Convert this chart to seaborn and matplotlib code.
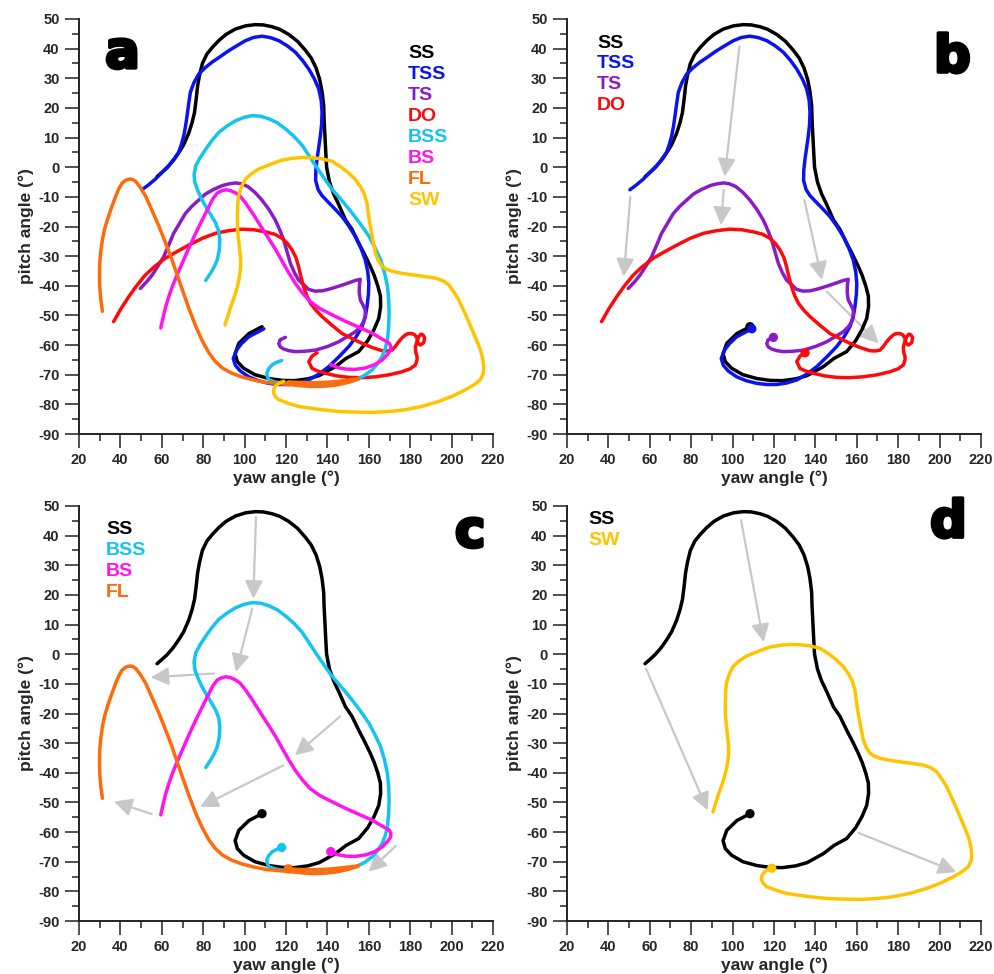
import matplotlib
matplotlib.use("Agg")
import matplotlib.pyplot as plt
import seaborn as sns
import pandas as pd
from matplotlib import patheffects as pe
from matplotlib.ticker import MultipleLocator

# ---------------- data (yaw, pitch) ----------------
ss_yaw = [108.4, 102.1, 97.2, 95.4, 96.5, 99.5, 105.0, 111.8, 118.1, 124.0, 130.5, 136.0, 143.8,
          149.0, 155.1, 159.5, 162.5, 164.8, 165.7, 165.6, 164.4, 162.6, 160.7, 158.0, 155.1,
          151.9, 148.7, 145.4, 143.0, 141.0, 139.6, 139.2, 138.8, 138.4, 138.2, 137.4, 136.3,
          134.5, 132.2, 129.3, 125.5, 121.3, 117.0, 113.2, 109.0, 105.2, 100.5, 95.5, 91.0,
          87.5, 84.5, 81.8, 79.6, 78.2, 77.3, 76.6, 75.8, 74.6, 73.0, 70.5, 68.1, 65.5, 62.5,
          60.0, 57.7]
ss_pitch = [-53.8, -56.1, -59.4, -62.9, -65.6, -67.8, -70.0, -71.3, -71.9, -72.0, -71.4, -70.3, -67.3,
            -64.5, -62.2, -58.5, -54.8, -51.0, -47.0, -43.5, -40.2, -36.5, -33.4, -29.5, -25.6,
            -21.0, -17.7, -12.5, -9.0, -5.0, 0.0, 5.0, 10.6, 16.0, 20.8, 25.5, 29.5,
            33.5, 36.8, 39.5, 42.5, 44.8, 46.5, 47.4, 48.0, 48.1, 47.7, 46.6, 44.8,
            42.7, 40.5, 38.2, 35.0, 31.0, 27.5, 23.0, 18.5, 15.0, 11.5, 7.5, 4.8, 2.2, -0.2,
            -1.8, -3.2]

tss_yaw = [109.3, 102.0, 98.5, 96.3, 94.5, 95.5, 98.0, 102.0, 106.5, 111.6, 116.5, 121.3, 126.0,
           130.9, 135.9, 140.6, 145.5, 150.3, 153.8, 156.7, 158.3, 159.1, 159.8, 160.0, 159.5,
           158.3, 156.3, 153.5, 150.5, 147.1, 143.5, 140.0, 137.3, 135.5, 134.3, 134.4, 135.0,
           135.8, 136.6, 137.2, 137.4, 137.0, 135.8, 133.7, 131.0, 128.0, 124.5, 120.5, 116.5,
           112.5, 108.4, 104.4, 100.4, 96.3, 92.3, 88.2, 84.2, 80.8, 77.8, 75.5, 73.8, 73.0,
           72.2, 71.5, 70.6, 69.5, 68.1, 65.8, 63.3, 60.0, 56.9, 53.5, 50.4]
tss_pitch = [-54.5, -57.2, -59.5, -61.5, -64.5, -66.8, -68.8, -70.7, -72.0, -72.9, -73.3, -73.3, -72.8,
             -71.8, -69.8, -67.3, -64.0, -60.5, -57.3, -53.8, -50.5, -47.1, -43.0, -39.2, -35.3,
             -31.3, -27.5, -23.4, -20.0, -16.7, -14.0, -11.5, -9.5, -7.5, -4.5, -1.0, 2.8,
             6.7, 10.6, 14.5, 18.5, 22.5, 26.4, 29.8, 33.1, 36.0, 38.8, 41.0, 42.7,
             43.7, 44.2, 43.8, 42.7, 41.0, 39.3, 37.3, 35.4, 33.5, 31.4, 28.5, 25.3, 21.5,
             17.4, 14.0, 10.6, 7.8, 5.0, 2.7, 0.5, -1.8, -4.0, -6.0, -7.6]

ts_yaw = [119.7, 117.2, 116.5, 117.2, 118.8, 121.5, 124.5, 129.0, 134.2, 140.0, 145.4, 150.0, 153.5,
          156.0, 157.5, 158.3, 158.3, 157.2, 155.9, 155.4, 155.4, 155.7, 155.9, 153.5, 150.3,
          147.0, 143.8, 140.5, 137.4, 134.0, 130.9, 128.3, 126.1, 124.0, 122.1, 120.5, 118.9,
          117.0, 114.8, 111.8, 108.4, 105.0, 101.5, 98.5, 95.7, 92.5, 89.2, 85.0, 81.2, 77.8,
          74.5, 71.4, 68.5, 65.7, 63.3, 60.9, 58.0, 55.3, 52.5, 49.6]
ts_pitch = [-57.4, -58.2, -59.5, -60.6, -61.3, -61.9, -62.2, -62.1, -61.7, -60.5, -58.9, -57.0, -55.5,
            -53.8, -52.1, -50.0, -48.2, -46.5, -44.8, -42.5, -40.3, -38.5, -37.8, -38.2, -39.0,
            -39.8, -40.5, -41.2, -41.7, -41.8, -41.2, -39.5, -38.1, -35.5, -32.4, -28.5, -24.6,
            -21.2, -17.8, -14.3, -11.1, -8.5, -6.5, -5.6, -5.3, -5.6, -6.2, -7.5, -9.0, -11.1,
            -13.2, -15.6, -19.0, -22.3, -26.3, -30.2, -33.5, -36.4, -38.8, -40.9]

do_yaw = [135.0, 132.6, 131.0, 132.6, 135.5, 139.0, 144.5, 150.3, 156.5, 163.2, 170.0, 176.0, 180.0,
          182.5, 183.3, 183.3, 182.6, 182.5, 183.2, 184.1, 185.2, 186.2, 187.0, 186.5, 184.9,
          183.8, 183.3, 182.3, 180.9, 179.0, 177.6, 176.0, 174.4, 172.8, 171.2, 168.8, 166.4,
          161.5, 156.7, 151.9, 147.1, 142.2, 137.4, 134.5, 131.8, 130.0, 128.5, 127.2, 126.1,
          124.8, 122.9, 120.8, 118.1, 114.5, 110.0, 104.5, 98.7, 92.3, 85.9, 79.5, 73.0, 67.2,
          61.7, 56.5, 52.0, 47.8, 44.0, 40.2, 36.7]
do_pitch = [-62.6, -63.7, -65.6, -67.9, -68.8, -69.5, -70.4, -70.9, -71.0, -70.7, -70.0, -69.0, -68.0,
            -66.7, -65.0, -63.9, -62.2, -60.5, -59.0, -57.2, -56.3, -56.6, -57.5, -59.2, -60.0,
            -59.4, -57.7, -56.6, -56.1, -56.1, -56.6, -57.6, -58.9, -60.5, -61.7, -62.0, -61.9,
            -60.8, -59.4, -57.8, -56.1, -53.3, -50.4, -48.3, -45.9, -43.3, -40.3, -37.0, -33.6,
            -30.5, -27.9, -25.8, -24.0, -22.6, -21.8, -21.1, -20.9, -21.4, -22.3, -24.0, -26.3, -28.5,
            -30.7, -33.5, -36.4, -40.0, -43.7, -47.8, -52.1]

bss_yaw = [117.9, 115.5, 113.4, 111.6, 110.7, 111.0, 111.8, 114.5, 118.2, 124.0, 130.0, 136.0, 142.0,
           148.0, 153.7, 158.0, 161.7, 164.5, 166.5, 168.0, 169.0, 169.6, 169.8, 169.6, 169.0,
           167.6, 165.7, 163.0, 160.1, 156.2, 152.0, 147.3, 142.4, 138.3, 134.3, 131.0, 127.9,
           124.0, 119.8, 115.8, 111.8, 107.8, 103.7, 99.7, 95.7, 91.5, 87.6, 84.2, 81.2, 78.5,
           76.4, 75.6, 75.9, 77.2, 79.0, 81.2, 83.6, 86.0, 87.5, 88.0, 87.8, 86.8, 85.3, 83.6, 81.2]
bss_pitch = [-65.2, -65.8, -66.6, -68.0, -69.4, -70.7, -71.7, -72.4, -72.8, -72.9, -72.9, -72.9, -72.8,
             -72.5, -71.7, -70.2, -68.3, -66.0, -63.8, -61.0, -58.2, -53.7, -49.2, -44.7, -40.2,
             -35.7, -31.2, -27.2, -23.3, -19.4, -15.5, -11.5, -7.6, -3.6, 0.5, 4.0, 7.3,
             10.3, 12.9, 15.0, 16.3, 17.2, 17.4, 16.8, 15.7, 13.9, 11.8, 9.0, 6.1, 3.2,
             0.5, -2.5, -5.0, -7.6, -10.4, -13.2, -16.0, -18.8, -21.6, -24.4, -27.8, -31.2, -33.6,
             -35.7, -38.2]

bs_yaw = [141.6, 145.0, 148.8, 153.5, 158.5, 162.8, 166.5, 169.0, 170.6, 170.6, 169.8, 166.0, 161.7,
          155.2, 148.8, 142.3, 135.9, 131.5, 127.9, 124.5, 121.4, 118.2, 115.0, 111.5, 107.8,
          104.2, 100.5, 98.0, 95.7, 93.2, 90.9, 88.7, 86.8, 84.7, 82.8, 79.6, 76.4, 73.1,
          69.9, 67.4, 65.1, 63.4, 61.9, 60.6, 59.5]
bs_pitch = [-66.6, -67.6, -68.1, -68.2, -67.7, -66.6, -65.0, -63.2, -61.6, -60.3, -59.3, -57.8, -56.0,
            -54.0, -52.0, -49.8, -47.5, -45.2, -42.4, -39.2, -35.7, -31.8, -27.8, -23.9, -19.9,
            -15.9, -12.1, -9.9, -8.7, -7.9, -7.6, -8.0, -8.7, -10.6, -13.2, -17.7, -22.2, -27.2,
            -32.3, -36.3, -40.2, -43.6, -47.0, -50.7, -54.2]

fl_yaw = [121.1, 126.0, 132.0, 138.0, 144.0, 150.0, 155.0, 150.0, 144.0, 138.0, 132.7, 127.0, 119.8,
          115.0, 110.2, 104.5, 98.9, 93.5, 89.2, 85.8, 82.8, 79.5, 76.4, 73.0, 69.9, 67.0,
          64.3, 61.5, 58.6, 55.4, 52.2, 49.6, 47.4, 45.8, 44.2, 42.5, 40.9, 39.2, 37.7, 35.6,
          33.7, 32.3, 31.3, 30.5, 30.0, 29.9, 30.0, 30.5, 31.3]
fl_pitch = [-72.4, -72.6, -72.7, -72.6, -72.3, -71.8, -71.4, -72.6, -73.5, -73.9, -74.0, -73.7, -73.2,
            -72.9, -72.6, -71.8, -70.8, -69.4, -67.7, -65.5, -62.7, -58.5, -53.7, -47.5, -41.3, -35.5,
            -30.0, -25.0, -19.9, -14.8, -9.8, -6.8, -4.8, -4.1, -4.0, -4.4, -5.3, -7.3, -9.8, -13.8,
            -17.7, -21.0, -24.4, -28.5, -32.3, -36.3, -40.2, -44.5, -48.6]

sw_yaw = [118.9, 116.5, 114.8, 114.0, 114.0, 114.9, 116.5, 120.5, 126.1, 135.0, 145.4, 153.5, 161.6,
          170.0, 177.7, 186.0, 193.8, 200.5, 206.6, 210.8, 213.9, 215.3, 215.5, 215.0, 213.9,
          212.0, 209.9, 206.8, 203.4, 201.0, 198.6, 195.5, 192.1, 186.5, 180.9, 176.0, 171.2,
          168.5, 166.4, 164.6, 163.2, 161.9, 160.7, 159.8, 159.1, 157.8, 155.9, 153.3, 150.3,
          146.3, 142.2, 137.5, 132.6, 127.8, 122.9, 118.0, 113.2, 109.0, 106.8, 103.3, 100.4,
          98.5, 97.1, 96.7, 96.5, 96.5, 97.0, 97.6, 98.1, 98.1, 97.5, 96.5, 95.0, 93.3, 91.9, 90.5]
sw_pitch = [-72.2, -72.9, -73.9, -75.0, -76.2, -77.4, -78.4, -79.5, -80.7, -81.6, -82.4, -82.6, -82.7,
            -82.4, -81.8, -80.6, -79.0, -77.2, -75.1, -73.4, -71.7, -69.5, -67.2, -64.5, -61.6,
            -58.3, -54.8, -49.8, -44.7, -42.0, -39.6, -38.2, -37.4, -36.8, -36.3, -35.8, -35.1,
            -34.4, -33.4, -31.5, -29.0, -24.5, -20.0, -16.0, -12.1, -9.0, -6.5, -4.0, -2.0,
            0.2, 2.0, 2.8, 3.2, 3.3, 3.0, 2.4, 1.2, 0.0, -0.6, -2.2, -4.0,
            -6.5, -9.6, -12.2, -16.0, -20.1, -24.0, -27.9, -31.0, -33.5, -37.0, -40.3, -43.8, -47.0,
            -50.2, -53.2]

series_names = ["SS", "TSS", "TS", "DO", "BSS", "BS", "FL", "SW"]
series_data = {
    "SS": (ss_yaw, ss_pitch), "TSS": (tss_yaw, tss_pitch), "TS": (ts_yaw, ts_pitch),
    "DO": (do_yaw, do_pitch), "BSS": (bss_yaw, bss_pitch), "BS": (bs_yaw, bs_pitch),
    "FL": (fl_yaw, fl_pitch), "SW": (sw_yaw, sw_pitch),
}
colors = {"SS": "#000000", "TSS": "#0a14f0", "TS": "#8a1cc8", "DO": "#ff0a0a",
          "BSS": "#14c4f0", "BS": "#ff14f0", "FL": "#ff6a0a", "SW": "#ffc400"}

panel_series = {
    "a": series_names,
    "b": ["SS", "TSS", "TS", "DO"],
    "c": ["SS", "BSS", "BS", "FL"],
    "d": ["SS", "SW"],
}
# arrows: (x_start, y_start, x_end, y_end)
arrows_b = [(103.3, 40.7, 96.2, -3.2), (50.6, -9.9, 47.4, -36.9), (95.7, -7.7, 94.4, -19.5),
            (134.7, -11.1, 143.2, -38.0), (145.6, -42.0, 170.6, -59.4)]
arrows_c = [(105.5, 46.3, 104.2, 18.7), (103.7, 15.4, 95.8, -6.0), (85.2, -6.5, 54.6, -7.8),
            (146.1, -21.0, 124.3, -34.1), (118.7, -37.5, 78.5, -51.5), (55.1, -53.9, 36.9, -49.7),
            (173.0, -64.7, 159.8, -73.4)]
arrows_d = [(104.1, 45.2, 115.0, 4.1), (58.2, -4.9, 88.0, -52.7), (160.9, -60.3, 208.1, -73.5)]
panel_arrows = {"a": [], "b": arrows_b, "c": arrows_c, "d": arrows_d}

legend_pos = {"a": (179.0, 38.2), "b": (34.5, 41.9), "c": (33.0, 42.2), "d": (30.1, 45.3)}
letter_pos = {"a": (32.6, 33.5), "b": (197.3, 32.1), "c": (201.6, 36.2), "d": (195.4, 39.5)}
axes_rect = {
    "a": [0.0795, 0.5544, 0.4165, 0.4261],
    "b": [0.5704, 0.5544, 0.4165, 0.4261],
    "c": [0.0795, 0.0544, 0.4165, 0.4261],
    "d": [0.5704, 0.0544, 0.4165, 0.4261],
}

# ---------------- drawing ----------------
sns.set_style("ticks")
plt.rcParams["font.family"] = ["Liberation Sans", "DejaVu Sans"]
plt.rcParams["font.weight"] = "bold"
plt.rcParams["axes.unicode_minus"] = False

fig = plt.figure(figsize=(9.94, 9.74), dpi=100)

for key in ["a", "b", "c", "d"]:
    ax = fig.add_axes(axes_rect[key])
    for name in panel_series[key]:
        xs, ys = series_data[name]
        df = pd.DataFrame({"yaw": xs, "pitch": ys})
        sns.lineplot(data=df, x="yaw", y="pitch", sort=False, estimator=None,
                     color=colors[name], lw=2.5, ax=ax, legend=False,
                     solid_joinstyle="round", solid_capstyle="round")
    if key != "a":
        for name in panel_series[key]:
            xs, ys = series_data[name]
            sns.scatterplot(x=[xs[0]], y=[ys[0]], color=colors[name], s=45,
                            edgecolor="none", ax=ax, legend=False, zorder=5)
    for (x0, y0, x1, y1) in panel_arrows[key]:
        ax.annotate("", xy=(x1, y1), xytext=(x0, y0),
                    arrowprops=dict(arrowstyle="-|>,head_length=0.9,head_width=0.45",
                                    color="#c8c8c8", lw=1.6, shrinkA=0, shrinkB=0,
                                    mutation_scale=12), zorder=1)
    lx, ly = legend_pos[key]
    for i, name in enumerate(panel_series[key]):
        ax.text(lx, ly - i * 7.08, name, color=colors[name], fontsize=14,
                fontweight="bold", ha="left", va="center")
    tx, ty = letter_pos[key]
    ax.text(tx, ty, key, fontsize=37, fontweight="bold", color="black",
            family="DejaVu Sans", ha="left", va="baseline",
            path_effects=[pe.withStroke(linewidth=2.5, foreground="black")])

    ax.set_xlim(20, 220)
    ax.set_ylim(-90, 50)
    ax.xaxis.set_major_locator(MultipleLocator(20))
    ax.xaxis.set_minor_locator(MultipleLocator(10))
    ax.yaxis.set_major_locator(MultipleLocator(10))
    ax.yaxis.set_minor_locator(MultipleLocator(5))
    ax.tick_params(which="major", length=10, width=1.1, direction="out",
                   labelsize=10.5, color="#222222", pad=4)
    ax.tick_params(which="minor", length=5, width=1.1, direction="out", color="#222222")
    for lab in ax.get_xticklabels() + ax.get_yticklabels():
        lab.set_fontweight("bold")
    ax.set_xlabel("yaw angle (°)", fontsize=12.5, fontweight="bold", labelpad=2)
    ax.set_ylabel("pitch angle (°)", fontsize=12.5, fontweight="bold", labelpad=3)
    sns.despine(ax=ax)
    for sp in ["left", "bottom"]:
        ax.spines[sp].set_linewidth(1.4)
        ax.spines[sp].set_color("#222222")

fig.savefig("out.png", dpi=100)
